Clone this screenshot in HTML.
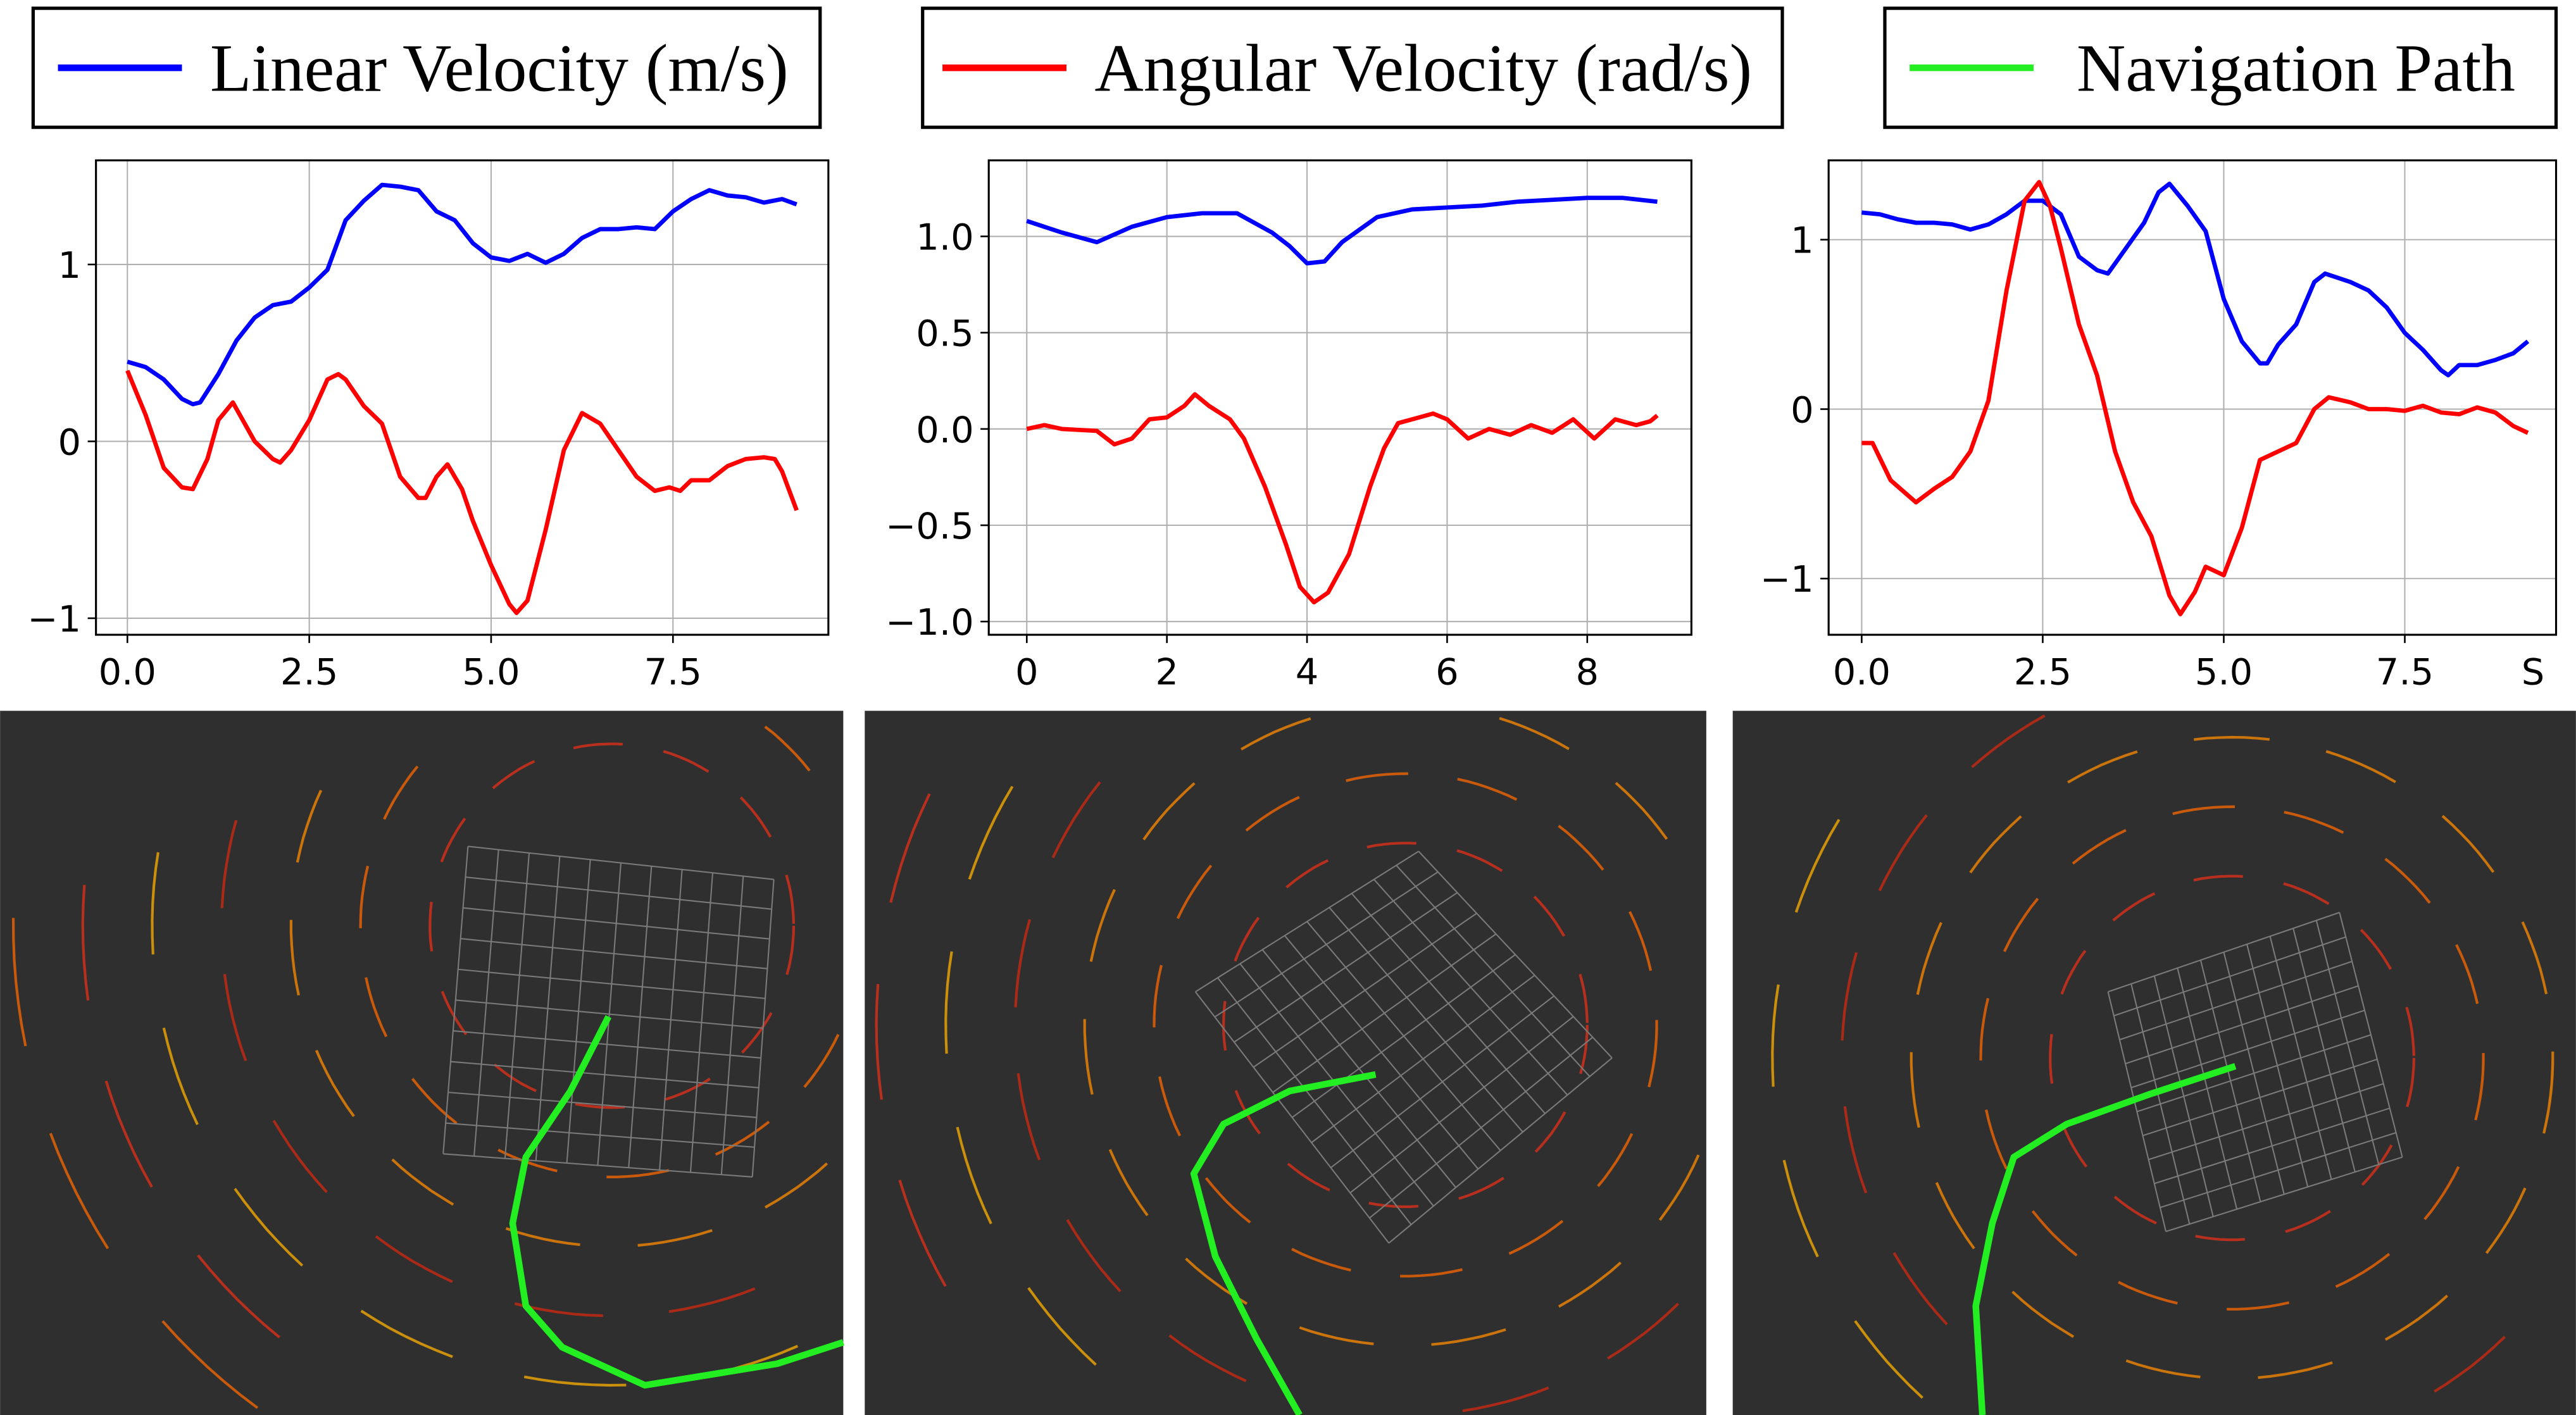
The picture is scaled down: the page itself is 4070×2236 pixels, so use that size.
<!DOCTYPE html>
<html><head><meta charset="utf-8"><style>
html,body{margin:0;padding:0;background:#fff;overflow:hidden;width:4070px;height:2236px;}
svg{display:block;}
</style></head><body>
<svg id="root" width="4070" height="2236" viewBox="0 0 1558 856" xmlns="http://www.w3.org/2000/svg">
<g>
<rect x="20" y="5" width="476" height="72" fill="#fff" stroke="#000" stroke-width="2"/>
<line x1="35" y1="41" x2="110" y2="41" stroke="#0000ff" stroke-width="4"/>
<text x="127" y="55" font-family="Liberation Serif, serif" font-size="41">Linear Velocity (m/s)</text></g>
<g>
<rect x="558" y="5" width="520" height="72" fill="#fff" stroke="#000" stroke-width="2"/>
<line x1="570" y1="41" x2="645" y2="41" stroke="#ff0000" stroke-width="4"/>
<text x="662" y="55" font-family="Liberation Serif, serif" font-size="41">Angular Velocity (rad/s)</text></g>
<g>
<rect x="1140" y="5" width="406" height="72" fill="#fff" stroke="#000" stroke-width="2"/>
<line x1="1155" y1="41" x2="1230" y2="41" stroke="#22ee22" stroke-width="4"/>
<text x="1256" y="55" font-family="Liberation Serif, serif" font-size="41">Navigation Path</text></g>
<g id="charts"></g>
<g id="maps"></g>
</svg>
<script>
// Chart 1
const c1T=[0,0.25,0.5,0.75,0.9,1.0,1.25,1.5,1.75,2.0,2.25,2.5,2.75,3.0,3.25,3.5,3.75,4.0,4.25,4.5,4.75,5.0,5.25,5.5,5.75,6.0,6.25,6.5,6.75,7.0,7.25,7.5,7.75,8.0,8.25,8.5,8.75,9.0,9.2];
const c1Lin=[0.45,0.42,0.35,0.24,0.21,0.22,0.38,0.57,0.7,0.77,0.79,0.87,0.97,1.25,1.36,1.45,1.44,1.42,1.3,1.25,1.12,1.04,1.02,1.06,1.01,1.06,1.15,1.2,1.2,1.21,1.2,1.3,1.37,1.42,1.39,1.38,1.35,1.37,1.34];
const c1Ta=[0,0.25,0.5,0.75,0.9,1.1,1.25,1.45,1.75,2.0,2.1,2.25,2.5,2.75,2.9,3.0,3.25,3.5,3.75,4.0,4.1,4.25,4.4,4.6,4.75,5.0,5.25,5.35,5.5,5.75,6.0,6.25,6.5,6.75,7.0,7.25,7.45,7.6,7.75,8.0,8.25,8.5,8.75,8.9,9.0,9.2];
const c1Ang=[0.4,0.15,-0.15,-0.26,-0.27,-0.1,0.12,0.22,0,-0.1,-0.12,-0.05,0.12,0.35,0.38,0.35,0.2,0.1,-0.2,-0.32,-0.32,-0.2,-0.13,-0.27,-0.45,-0.7,-0.92,-0.97,-0.9,-0.5,-0.05,0.16,0.1,-0.05,-0.2,-0.28,-0.26,-0.28,-0.22,-0.22,-0.14,-0.1,-0.09,-0.1,-0.17,-0.39];
const c1XTicks=[0,2.5,5,7.5], c1XLabels=["0.0","2.5","5.0","7.5"];
const c1YTicks=[1,0,-1], c1YLabels=["1","0","\u22121"];
// Chart 2
const c2T=[0,0.5,1.0,1.5,2.0,2.5,3.0,3.5,3.75,4.0,4.25,4.5,5.0,5.5,6.0,6.5,7.0,7.5,8.0,8.5,9.0];
const c2Lin=[1.08,1.02,0.97,1.05,1.1,1.12,1.12,1.02,0.95,0.86,0.87,0.97,1.1,1.14,1.15,1.16,1.18,1.19,1.2,1.2,1.18];
const c2Ta=[0,0.25,0.5,1.0,1.25,1.5,1.75,2.0,2.25,2.4,2.6,2.9,3.1,3.4,3.7,3.9,4.1,4.3,4.6,4.9,5.1,5.3,5.6,5.8,6.0,6.3,6.6,6.9,7.2,7.5,7.8,8.1,8.4,8.7,8.9,9.0];
const c2Ang=[0,0.02,0,-0.01,-0.08,-0.05,0.05,0.06,0.12,0.18,0.12,0.05,-0.05,-0.3,-0.6,-0.82,-0.9,-0.85,-0.65,-0.3,-0.1,0.03,0.06,0.08,0.05,-0.05,0,-0.03,0.02,-0.02,0.05,-0.05,0.05,0.02,0.04,0.07];
const c2XTicks=[0,2,4,6,8], c2XLabels=["0","2","4","6","8"];
const c2YTicks=[1,0.5,0,-0.5,-1], c2YLabels=["1.0","0.5","0.0","\u22120.5","\u22121.0"];
// Chart 3
const c3T=[0,0.25,0.5,0.75,1.0,1.25,1.5,1.75,2.0,2.25,2.5,2.75,3.0,3.25,3.4,3.6,3.9,4.1,4.25,4.5,4.75,5.0,5.25,5.5,5.6,5.75,6.0,6.25,6.4,6.75,7.0,7.25,7.5,7.75,8.0,8.1,8.25,8.5,8.75,9.0,9.2];
const c3Lin=[1.16,1.15,1.12,1.1,1.1,1.09,1.06,1.09,1.15,1.23,1.23,1.15,0.9,0.82,0.8,0.92,1.1,1.28,1.33,1.2,1.05,0.65,0.4,0.27,0.27,0.38,0.5,0.75,0.8,0.75,0.7,0.6,0.45,0.35,0.23,0.2,0.26,0.26,0.29,0.33,0.4];
const c3Ta=[0,0.15,0.4,0.75,1.0,1.25,1.5,1.75,2.0,2.25,2.45,2.6,2.75,3.0,3.25,3.5,3.75,4.0,4.25,4.4,4.6,4.75,5.0,5.25,5.5,5.75,6.0,6.25,6.45,6.75,7.0,7.25,7.5,7.75,8.0,8.25,8.5,8.75,9.0,9.2];
const c3Ang=[-0.2,-0.2,-0.42,-0.55,-0.47,-0.4,-0.25,0.05,0.7,1.23,1.34,1.2,0.95,0.5,0.2,-0.25,-0.55,-0.75,-1.1,-1.21,-1.08,-0.93,-0.98,-0.7,-0.3,-0.25,-0.2,0,0.07,0.04,0,0,-0.01,0.02,-0.02,-0.03,0.01,-0.02,-0.1,-0.14];
const c3XTicks=[0,2.5,5,7.5], c3XLabels=["0.0","2.5","5.0","7.5"];
const c3YTicks=[1,0,-1], c3YLabels=["1","0","\u22121"];

const NS="http://www.w3.org/2000/svg";
function mk(tag,attrs,parent){const e=document.createElementNS(NS,tag);for(const k in attrs)e.setAttribute(k,attrs[k]);parent.appendChild(e);return e;}
const charts=document.getElementById('charts');
function chart(name,box,xd,yd,xt,xl,yt,yl,series){
  const g=mk('g',{},charts);
  
  
  const sx=v=>box.px0+(v-xd[0])/(xd[1]-xd[0])*(box.px1-box.px0);
  const sy=v=>box.py0+(v-yd[0])/(yd[1]-yd[0])*(box.py1-box.py0);
  xt.forEach((t,i)=>{
    const l=mk('line',{x1:sx(t),x2:sx(t),y1:box.t,y2:box.b,stroke:'#b0b0b0','stroke-width':0.8},g);
    
    
    mk('line',{x1:sx(t),x2:sx(t),y1:box.b,y2:box.b+5,stroke:'#000','stroke-width':1},g);
    const tx=mk('text',{x:sx(t),y:box.b+30,'text-anchor':'middle','font-family':'DejaVu Sans, sans-serif','font-size':22},g);
    tx.textContent=xl[i];
    
    
  });
  yt.forEach((t,i)=>{
    const l=mk('line',{x1:box.l,x2:box.r,y1:sy(t),y2:sy(t),stroke:'#b0b0b0','stroke-width':0.8},g);
    
    
    mk('line',{x1:box.l-5,x2:box.l,y1:sy(t),y2:sy(t),stroke:'#000','stroke-width':1},g);
    const tx=mk('text',{x:box.l-9,y:sy(t)+8,'text-anchor':'end','font-family':'DejaVu Sans, sans-serif','font-size':22},g);
    tx.textContent=yl[i];
    
    
  });
  series.forEach(s=>{
    const d=s.t.map((t,i)=>(i?'L':'M')+sx(t).toFixed(2)+','+sy(s.v[i]).toFixed(2)).join('');
    const p=mk('path',{d:d,fill:'none',stroke:s.c,'stroke-width':2.6,'stroke-linejoin':'round'},g);
    
    
  });
  const f=mk('rect',{x:box.l,y:box.t,width:box.r-box.l,height:box.b-box.t,fill:'none',stroke:'#000','stroke-width':1.2},g);
  
  
}
chart('chart-left',{l:58,r:501,t:97,b:384,px0:77,px1:297,py0:160,py1:374},[0,5],[1,-1],c1XTicks,c1XLabels,c1YTicks,c1YLabels,
 [{t:c1T,v:c1Lin,c:'#0000ff',n:'linear-velocity-line'},{t:c1Ta,v:c1Ang,c:'#ff0000',n:'angular-velocity-line'}]);
chart('chart-middle',{l:598,r:1023,t:97,b:384,px0:621,px1:960,py0:143,py1:376},[0,8],[1,-1],c2XTicks,c2XLabels,c2YTicks,c2YLabels,
 [{t:c2T,v:c2Lin,c:'#0000ff',n:'linear-velocity-line'},{t:c2Ta,v:c2Ang,c:'#ff0000',n:'angular-velocity-line'}]);
chart('chart-right',{l:1106,r:1546,t:97,b:384,px0:1126,px1:1345,py0:145,py1:350},[0,5],[1,-1],c3XTicks,c3XLabels,c3YTicks,c3YLabels,
 [{t:c3T,v:c3Lin,c:'#0000ff',n:'linear-velocity-line'},{t:c3Ta,v:c3Ang,c:'#ff0000',n:'angular-velocity-line'}]);
const sLbl=mk('text',{x:1532,y:414,'text-anchor':'middle','font-family':'DejaVu Sans, sans-serif','font-size':22},charts);
sLbl.textContent='S';



// maps: arcs drawn as dash segments kept inside each panel
const maps=document.getElementById('maps');
const panels=[
 {x:0,w:510,cx:370,cy:560,grid:[[283,512],[468,532],[455,712],[268,698]],path:[[368,615],[345,660],[318,700],[310,740],[318,790],[340,815],[390,838],[470,825],[510,812]]},
 {x:523,w:509,cx:850,cy:620,grid:[[723,600],[858,515],[975,640],[840,752]],path:[[832,650],[780,660],[740,680],[722,710],[735,760],[760,810],[786,856]]},
 {x:1048,w:510,cx:1350,cy:640,grid:[[1275,600],[1415,552],[1453,700],[1310,745]],path:[[1352,645],[1300,662],[1250,680],[1218,700],[1205,740],[1195,790],[1199,856]]}
];
const cols=['#e8301a','#ff6a00','#ff8c00','#d62a10','#ffb000'];
panels.forEach((p,pi)=>{
  const g=mk('g',{},maps);
  
  
  mk('rect',{x:p.x,y:430,width:p.w,height:426,fill:'#2f2f2f'},g);
  const inside=(x,y)=>x>=p.x+1&&x<=p.x+p.w-1&&y>=431&&y<=855;
  for(let k=0;k<9;k++){
    const r=110+k*42, dash=30+k*8, gap=25+k*5;
    const period=(dash+gap)/r, dAng=dash/r;
    let d='';
    for(let a=0;a<Math.PI*2;a+=period){
      let seg='',ok=true;
      for(let j=0;j<=6;j++){
        const t=a+dAng*j/6, x=p.cx+r*Math.cos(t), y=p.cy+r*Math.sin(t);
        if(!inside(x,y)){ok=false;break;}
        seg+=(j?'L':'M')+x.toFixed(1)+','+y.toFixed(1);
      }
      if(ok)d+=seg;
    }
    if(d){
      const arc=mk('path',{d:d,fill:'none',stroke:cols[k%5],'stroke-width':1.6,opacity:0.75},g);
      
      
    }
  }
  const G=p.grid,N=10;
  const lerp=(a,b,t)=>[a[0]+(b[0]-a[0])*t,a[1]+(b[1]-a[1])*t];
  let gd='';
  for(let i=0;i<=N;i++){
    const t=i/N;
    const a=lerp(G[0],G[1],t),b=lerp(G[3],G[2],t);
    const c=lerp(G[0],G[3],t),d=lerp(G[1],G[2],t);
    gd+='M'+a[0]+','+a[1]+'L'+b[0]+','+b[1]+'M'+c[0]+','+c[1]+'L'+d[0]+','+d[1];
  }
  const gr=mk('path',{d:gd,stroke:'#7a7a7a','stroke-width':0.8,fill:'none'},g);
  
  
  const pd=p.path.map((q,i)=>(i?'L':'M')+q[0]+','+q[1]).join('');
  const np=mk('path',{d:pd,stroke:'#22ee22','stroke-width':4,fill:'none','stroke-linejoin':'round','stroke-linecap':'butt'},g);
  
  
});
</script>
</body></html>
